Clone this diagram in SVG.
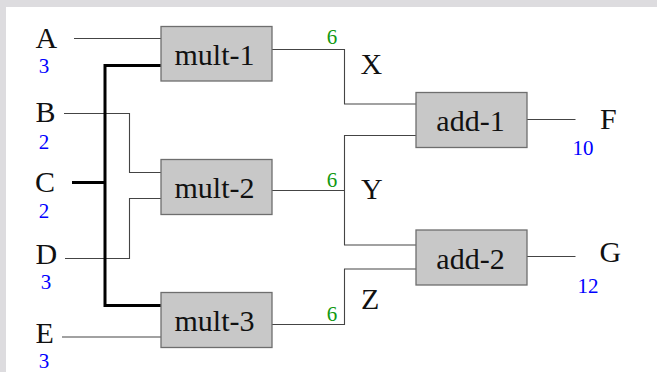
<svg xmlns="http://www.w3.org/2000/svg" width="657" height="372" viewBox="0 0 657 372">
<style>
.bg{fill:#ffffff}
.frame{fill:#dddcdf}
.box rect{fill:#c8c8c8;stroke:#6e6e6e;stroke-width:1.3}
.box text{font-family:"Liberation Serif",serif;font-size:30px;fill:#111;text-anchor:middle}
.lbl{font-family:"Liberation Serif",serif;font-size:30px;fill:#111}
.num{font-family:"Liberation Serif",serif;font-size:21px;fill:#0000ff;text-anchor:middle}
.w{font-family:"Liberation Serif",serif;font-size:21px;fill:#119911;text-anchor:middle}
.wire{fill:none;stroke:#444;stroke-width:1.1}
.thick{fill:none;stroke:#000;stroke-width:3}
</style>
<rect class="bg" x="0" y="0" width="657" height="372"/>
<rect class="frame" x="0" y="0" width="657" height="7"/>
<rect class="frame" x="0" y="0" width="6" height="372"/>
<g id="connectors">
<path class="wire" d="M74 38.5H161"/>
<path class="wire" d="M64 113.5H129.5V172.5H161"/>
<path class="wire" d="M65 258.5H129.5V198.5H161"/>
<path class="wire" d="M62 337H161"/>
<path class="thick" d="M72 182.5H105"/>
<path class="thick" d="M161 65.5H105V305.5H161"/>
<path class="wire" d="M272 49.5H344.5V104H416"/>
<path class="wire" d="M272 190.5H344.5"/>
<path class="wire" d="M416 135.5H344.5V245H416"/>
<path class="wire" d="M272 324.5H344.5V269H416"/>
<path class="wire" d="M527 119.5H575.5"/>
<path class="wire" d="M527 256.5H575.5"/>
</g>
<g id="A"><text class="lbl" x="35.5" y="48">A</text><text class="num" x="44" y="72.5">3</text></g>
<g id="B"><text class="lbl" x="35.5" y="122">B</text><text class="num" x="44" y="148.5">2</text></g>
<g id="C"><text class="lbl" x="35" y="191.5">C</text><text class="num" x="44" y="217.5">2</text></g>
<g id="D"><text class="lbl" x="35.5" y="264">D</text><text class="num" x="46" y="288.5">3</text></g>
<g id="E"><text class="lbl" x="35.5" y="342.5">E</text><text class="num" x="44" y="367.5">3</text></g>
<g id="mult-1" class="box"><rect x="161" y="26.5" width="111" height="54.5"/><text x="214.5" y="65">mult-1</text></g>
<g id="mult-2" class="box"><rect x="161" y="159.5" width="111" height="55"/><text x="214.5" y="197.5">mult-2</text></g>
<g id="mult-3" class="box"><rect x="161" y="292.5" width="111" height="55"/><text x="214.5" y="330.5">mult-3</text></g>
<g id="add-1" class="box"><rect x="416" y="92.5" width="111" height="55"/><text x="470.5" y="130.5">add-1</text></g>
<g id="add-2" class="box"><rect x="416" y="230" width="111" height="55"/><text x="470.5" y="268.5">add-2</text></g>
<g id="X"><text class="lbl" x="360.5" y="73.5">X</text><text class="w" x="332" y="44">6</text></g>
<g id="Y"><text class="lbl" x="361" y="198.5">Y</text><text class="w" x="332" y="186.5">6</text></g>
<g id="Z"><text class="lbl" x="361" y="309">Z</text><text class="w" x="332" y="321">6</text></g>
<g id="F"><text class="lbl" x="600" y="129">F</text><text class="num" x="583" y="155">10</text></g>
<g id="G"><text class="lbl" x="599.5" y="261.5">G</text><text class="num" x="588" y="292.5">12</text></g>
</svg>
